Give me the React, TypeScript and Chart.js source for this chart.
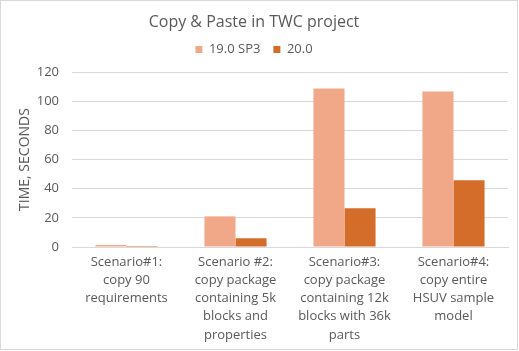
import React, { useEffect, useRef } from "react";
import { Chart, registerables } from "chart.js";

Chart.register(...registerables);

const categories: string[][] = [
  ["Scenario#1:", "copy 90", "requirements"],
  ["Scenario #2:", "copy package", "containing 5k", "blocks and", "properties"],
  ["Scenario#3:", "copy package", "containing 12k", "blocks with 36k", "parts"],
  ["Scenario#4:", "copy entire", "HSUV sample", "model"],
];
const series1Name = "19.0 SP3";
const series1Values = [1.4, 21, 108.7, 106.6];
const series2Name = "20.0";
const series2Values = [0.7, 6, 26.5, 45.7];
const yTicks = [0, 20, 40, 60, 80, 100, 120];

const FONT = "'Open Sans', sans-serif";
const TEXT = "#595959";
const GRID = "#d9d9d9";

const borderPlugin = {
  id: "outerBorder",
  afterDraw(chart: any) {
    const ctx = chart.ctx;
    ctx.save();
    ctx.strokeStyle = GRID;
    ctx.lineWidth = 1;
    ctx.strokeRect(0.5, 0.5, chart.width - 2, chart.height - 2);
    ctx.restore();
  },
};

export default function App() {
  const ref = useRef<HTMLCanvasElement | null>(null);
  useEffect(() => {
    document.body.style.margin = "0";
    const canvas = ref.current!;
    const chart = new Chart(canvas, {
      type: "bar",
      data: {
        labels: categories,
        datasets: [
          {
            label: series1Name,
            data: series1Values,
            backgroundColor: "#F0A889",
            borderWidth: 0,
          },
          {
            label: series2Name,
            data: series2Values,
            backgroundColor: "#D46D2A",
            borderWidth: 0,
          },
        ],
      },
      options: {
        animation: false,
        responsive: false,
        maintainAspectRatio: false,
        layout: { padding: { top: 10, left: 0, right: 11, bottom: 0 } },
        datasets: {
          bar: { categoryPercentage: 0.57, barPercentage: 1 },
        },
        plugins: {
          title: {
            display: true,
            text: "Copy & Paste in TWC project",
            color: TEXT,
            font: { family: FONT, size: 16, weight: "normal", lineHeight: 1 },
            padding: { top: 4, bottom: 0 },
          },
          legend: {
            display: true,
            position: "top",
            labels: {
              color: TEXT,
              font: { family: FONT, size: 13 },
              boxWidth: 7,
              boxHeight: 7,
              padding: 13,
            },
          },
          tooltip: { enabled: false },
        },
        scales: {
          x: {
            grid: { display: false, drawTicks: false },
            border: { display: true, color: GRID, width: 1 },
            ticks: {
              color: TEXT,
              font: { family: FONT, size: 13, lineHeight: 1.4 },
              maxRotation: 0,
              minRotation: 0,
              autoSkip: false,
              padding: 6,
            },
            afterFit(scale: any) {
              scale.height = 104;
            },
          },
          x2: {
            type: "category",
            position: "top",
            display: true,
            grid: { display: false, drawTicks: false },
            border: { display: false },
            ticks: { display: false },
            afterFit(scale: any) {
              scale.height = 6;
            },
          },
          y: {
            min: 0,
            max: 120,
            afterBuildTicks(scale: any) {
              scale.ticks = yTicks.map((v) => ({ value: v }));
            },
            grid: { color: GRID, lineWidth: 1, drawTicks: false },
            border: { display: false },
            ticks: {
              color: TEXT,
              font: { family: FONT, size: 13 },
              padding: 13,
            },
            title: {
              display: true,
              text: "TIME, SECONDS",
              color: TEXT,
              font: { family: FONT, size: 14 },
              padding: { top: 17, bottom: 0 },
            },
            afterFit(scale: any) {
              scale.width = 72;
            },
          },
        },
      },
      plugins: [borderPlugin],
    } as any);
    return () => chart.destroy();
  }, []);
  return <canvas ref={ref} width={519} height={351} style={{ display: "block" }} />;
}
